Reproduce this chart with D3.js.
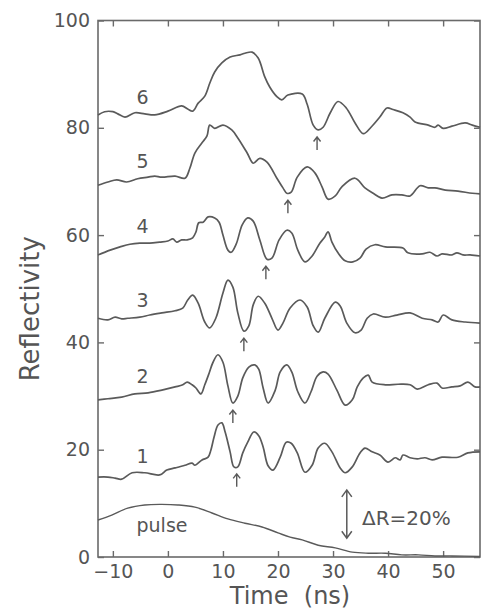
<!DOCTYPE html>
<html><head><meta charset="utf-8">
<script src="https://cdn.jsdelivr.net/npm/d3@7"></script>
<style>
body{margin:0;background:#fff}
svg{display:block}
text{font-family:"DejaVu Sans",sans-serif;fill:#555}
</style>
</head><body>
<svg id="chart" width="481" height="613"></svg>
<script>
// ---------- data ----------
const xTickValues = [-10, 0, 10, 20, 30, 40, 50];
const xTickLabels = ["\u221210", "0", "10", "20", "30", "40", "50"];
const yTickValues = [0, 20, 40, 60, 80, 100];
const yTickLabels = ["0", "20", "40", "60", "80", "100"];
const traceNames = ["1", "2", "3", "4", "5", "6"];
const arrowTimes = [12.5, 11.8, 13.8, 17.8, 21.8, 27.1]; // trough markers for traces 1..6

const pulse = [[-12.7,6.9],[-10.2,7.8],[-7.3,9.1],[-4.2,9.7],[-1.1,9.8],[1.8,9.7],[4.9,9.3],[8.0,8.2],[10.9,7.1],[14.0,6.3],[17.1,5.6],[20.0,4.5],[22.2,3.7],[24.4,3.2],[27.3,2.2],[30.4,1.7],[33.5,0.9],[36.4,0.7],[39.5,0.7],[42.5,0.4],[45.5,0.4],[48.5,0.2],[51.6,0.2],[56.7,0.1]];

const trace1 = [[-12.7,14.9],[-10.9,14.9],[-9.6,14.7],[-8.4,14.5],[-6.5,15.7],[-4.2,15.7],[-1.5,15.3],[-0.2,16.2],[1.3,16.6],[3.1,17.1],[4.4,17.5],[4.9,17.1],[6.2,18.1],[7.3,18.6],[7.8,19.9],[8.4,22.4],[9.1,24.6],[9.8,25.0],[10.4,23.3],[11.3,19.6],[12.0,16.8],[12.7,16.8],[13.6,19.4],[14.5,21.4],[15.6,23.3],[16.5,22.6],[17.3,20.5],[18.2,17.0],[19.1,16.2],[20.4,18.6],[21.5,21.4],[22.4,21.2],[23.5,19.4],[24.9,15.8],[26.2,17.1],[27.3,20.3],[28.5,21.2],[29.8,19.6],[31.3,16.6],[32.2,15.7],[33.5,16.8],[34.9,19.4],[35.8,20.3],[37.1,19.6],[38.5,19.0],[40.0,17.7],[41.3,18.5],[42.2,18.1],[42.7,19.0],[44.0,18.5],[45.3,18.3],[46.7,18.5],[48.0,18.1],[49.8,18.6],[52.7,18.6],[54.5,19.4],[56.7,19.6]];

const trace2 = [[-12.7,29.3],[-10.9,29.5],[-8.4,29.8],[-6.0,30.4],[-3.6,30.6],[-1.1,31.1],[1.3,31.7],[2.7,32.1],[3.5,32.6],[4.4,32.1],[5.1,31.5],[6.0,30.4],[6.7,32.1],[7.5,34.3],[8.2,36.3],[9.1,37.7],[10.0,36.3],[10.9,31.9],[11.8,28.7],[12.7,30.0],[13.6,33.4],[14.7,35.4],[15.8,35.8],[16.5,35.0],[17.3,31.5],[18.2,28.7],[19.5,31.1],[20.4,34.5],[21.6,35.8],[22.5,34.5],[23.6,30.8],[24.9,28.7],[26.0,30.8],[27.1,33.7],[28.2,34.5],[29.1,34.1],[30.7,31.1],[32.2,28.3],[33.5,29.3],[34.4,31.7],[35.5,33.4],[36.4,33.9],[37.1,32.6],[39.5,32.1],[41.8,32.2],[44.0,32.1],[45.3,31.3],[47.3,32.1],[48.9,32.4],[49.8,31.5],[51.6,31.7],[53.1,31.9],[54.5,32.6],[55.8,31.7],[56.7,31.7]];

const trace3 = [[-12.7,44.5],[-10.9,44.2],[-9.6,44.7],[-8.4,44.4],[-7.3,44.5],[-5.1,44.7],[-3.3,45.1],[-1.1,45.5],[1.3,45.9],[2.7,46.4],[3.6,47.9],[4.5,48.8],[5.5,47.3],[6.7,43.8],[7.6,42.7],[8.7,44.5],[10.0,49.2],[10.9,51.6],[11.8,50.3],[12.7,45.5],[13.8,42.1],[14.7,43.1],[15.5,47.0],[16.4,48.6],[17.6,47.3],[18.9,44.5],[20.0,42.3],[20.9,43.6],[22.2,46.4],[24.0,47.9],[25.3,46.6],[26.4,43.1],[27.3,41.9],[28.5,44.5],[30.4,47.5],[31.3,46.8],[32.5,43.6],[34.0,41.8],[35.1,42.3],[36.2,44.5],[37.3,45.3],[39.5,44.7],[41.6,45.1],[44.0,45.5],[46.2,44.5],[48.0,44.2],[49.1,43.8],[50.0,45.1],[51.6,44.2],[54.0,43.8],[56.7,43.6]];

const trace4 = [[-12.7,56.3],[-10.5,57.2],[-8.7,57.8],[-6.9,58.3],[-5.1,58.5],[-3.3,58.5],[-1.5,58.7],[0,58.9],[0.9,59.3],[1.6,58.7],[2.5,59.1],[3.5,59.1],[4.5,59.5],[5.1,60.6],[5.6,62.3],[6.4,62.4],[7.3,63.4],[8.5,63.2],[9.3,62.4],[10.0,60.0],[10.9,57.2],[11.5,56.8],[12.4,58.3],[13.5,61.9],[14.5,63.2],[15.5,62.6],[16.7,59.1],[18.0,55.5],[18.9,55.7],[20.2,59.1],[21.6,60.9],[22.5,60.4],[23.6,57.2],[24.9,55.0],[26.2,56.1],[27.6,58.5],[28.4,59.5],[29.1,60.6],[29.8,58.7],[30.9,56.7],[32.2,55.2],[33.6,55.0],[34.9,55.7],[36.0,57.4],[37.6,58.2],[39.5,57.8],[42.7,57.6],[43.6,56.7],[46.2,56.5],[47.6,56.8],[48.9,56.1],[49.8,56.5],[51.6,56.3],[52.5,56.7],[53.6,56.3],[54.9,56.3],[56.7,56.1]];

const trace5 = [[-12.7,69.3],[-10.9,69.9],[-9.3,70.3],[-7.5,69.9],[-5.5,70.5],[-3.6,70.8],[-2.4,71.0],[-1.1,70.8],[1.3,71.0],[3.1,70.6],[4.0,72.5],[4.9,75.3],[6.2,77.2],[7.1,78.5],[7.6,80.5],[8.5,79.9],[10.0,80.5],[11.6,79.6],[12.7,78.1],[14.4,75.3],[15.5,73.4],[16.7,74.3],[18.0,73.6],[19.8,70.6],[20.9,68.8],[21.6,67.8],[22.4,68.0],[23.5,70.8],[25.3,72.7],[26.7,71.6],[28.0,69.0],[29.1,66.7],[30.4,67.3],[31.6,69.0],[34.0,70.6],[35.8,68.8],[37.3,67.8],[38.9,66.9],[40.7,67.5],[42.5,67.5],[44.0,67.3],[45.8,69.2],[47.3,68.8],[48.5,68.8],[50.4,68.4],[52.7,68.2],[55.3,67.8],[56.7,67.7]];

const trace6 = [[-12.7,82.4],[-11.5,83.0],[-10.0,83.0],[-9.1,82.6],[-7.8,82.0],[-6.0,82.8],[-4.2,82.6],[-2.4,82.4],[0,83.1],[2.5,84.1],[3.6,83.5],[4.5,83.1],[5.5,84.6],[6.7,85.9],[7.6,88.3],[8.5,90.4],[9.8,92.1],[11.3,93.2],[13.1,93.6],[14.0,93.9],[15.3,94.1],[16.4,93.0],[17.6,89.5],[18.5,87.6],[19.8,85.8],[20.7,85.2],[21.8,86.1],[24.4,86.3],[25.3,84.4],[26.4,80.5],[27.3,79.6],[28.2,80.1],[29.5,82.8],[30.9,84.9],[32.4,83.7],[34.0,80.9],[35.5,78.9],[36.9,80.1],[38.5,82.0],[39.8,83.7],[40.9,83.4],[42.7,82.8],[44.0,82.0],[44.9,81.1],[47.3,80.5],[48.5,80.1],[49.1,80.5],[50.0,79.9],[51.6,80.3],[54.0,80.9],[55.3,80.5],[56.7,80.1]];

const traces = [trace1, trace2, trace3, trace4, trace5, trace6];

// ---------- layout ----------
const svg = d3.select("#chart");
const x = d3.scaleLinear().domain([-12.7, 56.7]).range([98, 480]);
const y = d3.scaleLinear().domain([0, 100]).range([557, 20.5]);
const ink = "#5a5a5a";
const frameInk = "#6a6a6a";

// frame
svg.append("rect")
  .attr("x", x(-12.7)).attr("y", y(100))
  .attr("width", x(56.7) - x(-12.7)).attr("height", y(0) - y(100))
  .attr("fill", "none").attr("stroke", frameInk).attr("stroke-width", 1.6);

function styleAxis(g) {
  g.select(".domain").remove();
  g.selectAll(".tick line").attr("stroke", frameInk).attr("stroke-width", 1.4);
  g.selectAll(".tick text").attr("fill", "#555").style("font-size", "19px").style("font-family", '"DejaVu Sans",sans-serif');
}

svg.append("g").attr("transform", `translate(0,${y(0)})`)
  .call(d3.axisBottom(x).tickValues(xTickValues).tickSizeInner(-6).tickSizeOuter(0).tickPadding(8)
    .tickFormat((d, i) => xTickLabels[i]))
  .call(styleAxis);
svg.append("g").attr("transform", `translate(0,${y(100)})`)
  .call(d3.axisTop(x).tickValues(xTickValues).tickSizeInner(-6).tickSizeOuter(0).tickFormat(""))
  .call(styleAxis);
svg.append("g").attr("transform", `translate(${x(-12.7)},0)`)
  .call(d3.axisLeft(y).tickValues(yTickValues).tickSizeInner(-6).tickSizeOuter(0).tickPadding(8)
    .tickFormat((d, i) => yTickLabels[i]))
  .call(styleAxis);
svg.append("g").attr("transform", `translate(${x(56.7)},0)`)
  .call(d3.axisRight(y).tickValues(yTickValues).tickSizeInner(-6).tickSizeOuter(0).tickFormat(""))
  .call(styleAxis);

// axis titles
svg.append("text")
  .attr("transform", `translate(39,${(y(0) + y(100)) / 2 + 20}) rotate(-90)`)
  .attr("text-anchor", "middle").style("font-size", "26px")
  .text("Reflectivity");
svg.append("text")
  .attr("x", 290).attr("y", 604).attr("text-anchor", "middle")
  .style("font-size", "24px").style("white-space", "pre")
  .text("Time  (ns)");

// curves
const line = d3.line().x(d => x(d[0])).y(d => y(d[1])).curve(d3.curveCatmullRom.alpha(0.5));
svg.append("path").datum(pulse).attr("d", line)
  .attr("fill", "none").attr("stroke", ink).attr("stroke-width", 1.4);
traces.forEach(tr => {
  svg.append("path").datum(tr).attr("d", line)
    .attr("fill", "none").attr("stroke", ink).attr("stroke-width", 1.7).attr("stroke-linejoin", "round");
});

// interpolation helper
function valueAt(tr, t) {
  for (let i = 1; i < tr.length; i++) {
    if (tr[i][0] >= t) {
      const a = tr[i - 1], b = tr[i];
      return a[1] + (b[1] - a[1]) * (t - a[0]) / (b[0] - a[0]);
    }
  }
  return tr[tr.length - 1][1];
}

// trace labels
const labelT = -4.6;
traces.forEach((tr, i) => {
  svg.append("text")
    .attr("x", x(labelT)).attr("y", y(valueAt(tr, labelT)) - 10)
    .attr("text-anchor", "middle").style("font-size", "19px")
    .text(traceNames[i]);
});
svg.append("text").attr("x", 162).attr("y", 532)
  .attr("text-anchor", "middle").style("font-size", "19px").text("pulse");

// trough arrows
traces.forEach((tr, i) => {
  const t = arrowTimes[i];
  const minV = d3.min(tr.filter(d => Math.abs(d[0] - t) < 1.2), d => d[1]);
  const top = y(minV) + 7, px = x(t);
  svg.append("path")
    .attr("d", `M${px},${top + 13}V${top}M${px - 3.5},${top + 4.5}L${px},${top}L${px + 3.5},${top + 4.5}`)
    .attr("fill", "none").attr("stroke", ink).attr("stroke-width", 1.4);
});

// delta R scale bar
const barX = x(32.5), barTop = y(12.5), barBot = y(3.5);
svg.append("path")
  .attr("d", `M${barX},${barTop}V${barBot}M${barX - 5},${barTop + 7}L${barX},${barTop}L${barX + 5},${barTop + 7}M${barX - 5},${barBot - 7}L${barX},${barBot}L${barX + 5},${barBot - 7}`)
  .attr("fill", "none").attr("stroke", ink).attr("stroke-width", 1.5);
svg.append("text").attr("x", 362).attr("y", 525).style("font-size", "20px").text("\u0394R=20%");
</script>
</body></html>
